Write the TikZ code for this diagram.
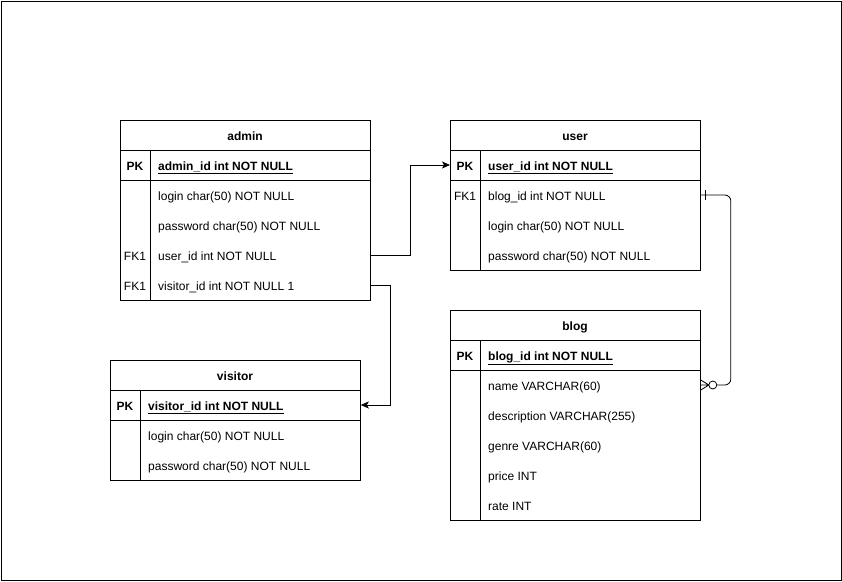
\documentclass[tikz,border=0pt]{standalone}
\usepackage{fontspec}
\setmainfont{Liberation Sans}
\usetikzlibrary{arrows.meta}
\tikzset{
  tbl/.style={draw=black, line width=0.8pt, fill=white, inner sep=0pt, anchor=north west, minimum width=250pt},
  ttl/.style={font=\fontsize{12}{14}\selectfont\bfseries, inner sep=0pt, text height=10pt, text depth=0pt},
  fld/.style={anchor=west, inner xsep=8pt, inner ysep=0pt, text height=10pt, text depth=0pt},
  keyl/.style={inner sep=0pt, text height=10pt, text depth=0pt},
  sep/.style={draw=black, line width=0.8pt},
  conn/.style={draw=black, line width=0.8pt},
  arr/.style={conn, -{Stealth[length=8pt,width=7pt,inset=2pt]}},
}
\newcommand\pkf[1]{\textbf{\underline{#1}}}
\begin{document}
\begin{tikzpicture}[x=1pt,y=-1pt,font=\fontsize{12}{14}\selectfont]
\useasboundingbox (0,0) rectangle (842,581);
\node[draw=black, line width=1pt, minimum width=840pt, minimum height=579pt, anchor=north west, inner sep=0pt] (frame) at (1,1) {};

% ---------- admin ----------
\node[tbl, minimum height=180pt] (admin) at (120,120) {};
\draw[sep] (120,150) -- (370,150) (120,180) -- (370,180) (150,150) -- (150,300);
\node[ttl] (adminT) at (245,135) {admin};
\node[keyl, font=\fontsize{12}{14}\selectfont\bfseries] (aPKl) at (135,165) {PK};
\node[fld] (aPK) at (150,165) {\pkf{admin\_id int NOT NULL}};
\node[fld] (aLogin) at (150,195) {login char(50) NOT NULL};
\node[fld] (aPass) at (150,225) {password char(50) NOT NULL};
\node[keyl] (aFK1l) at (135,255) {FK1};
\node[fld] (aUser) at (150,255) {user\_id int NOT NULL};
\node[keyl] (aFK2l) at (135,285) {FK1};
\node[fld] (aVis) at (150,285) {visitor\_id int NOT NULL 1};

% ---------- user ----------
\node[tbl, minimum height=150pt] (user) at (450,120) {};
\draw[sep] (450,150) -- (700,150) (450,180) -- (700,180) (480,150) -- (480,270);
\node[ttl] (userT) at (575,135) {user};
\node[keyl, font=\fontsize{12}{14}\selectfont\bfseries] (uPKl) at (465,165) {PK};
\node[fld] (uPK) at (480,165) {\pkf{user\_id int NOT NULL}};
\node[keyl] (uFKl) at (465,195) {FK1};
\node[fld] (uBlog) at (480,195) {blog\_id int NOT NULL};
\node[fld] (uLogin) at (480,225) {login char(50) NOT NULL};
\node[fld] (uPass) at (480,255) {password char(50) NOT NULL};

% ---------- blog ----------
\node[tbl, minimum height=210pt] (blog) at (450,310) {};
\draw[sep] (450,340) -- (700,340) (450,370) -- (700,370) (480,340) -- (480,520);
\node[ttl] (blogT) at (575,325) {blog};
\node[keyl, font=\fontsize{12}{14}\selectfont\bfseries] (bPKl) at (465,355) {PK};
\node[fld] (bPK) at (480,355) {\pkf{blog\_id int NOT NULL}};
\node[fld] (bName) at (480,385) {name VARCHAR(60)};
\node[fld] (bDesc) at (480,415) {description VARCHAR(255)};
\node[fld] (bGenre) at (480,445) {genre VARCHAR(60)};
\node[fld] (bPrice) at (480,475) {price INT};
\node[fld] (bRate) at (480,505) {rate INT};

% ---------- visitor ----------
\node[tbl, minimum height=120pt] (visitor) at (110,360) {};
\draw[sep] (110,390) -- (360,390) (110,420) -- (360,420) (140,390) -- (140,480);
\node[ttl] (visT) at (235,375) {visitor};
\node[keyl, font=\fontsize{12}{14}\selectfont\bfseries] (vPKl) at (125,405) {PK};
\node[fld] (vPK) at (140,405) {\pkf{visitor\_id int NOT NULL}};
\node[fld] (vLogin) at (140,435) {login char(50) NOT NULL};
\node[fld] (vPass) at (140,465) {password char(50) NOT NULL};

% ---------- connectors ----------
\draw[arr] (admin.east |- aUser) -- ++(40,0) |- (user.west |- uPK);
\draw[arr] (admin.east |- aVis) -- ++(20,0) |- (visitor.east |- vPK);

\draw[conn, rounded corners=6pt] (user.east |- uBlog) -- ++(30,0) |- ([xshift=16pt]blog.east |- bName);
\draw[conn] ([xshift=5pt]user.east |- uBlog) ++(0,-5) -- ++(0,10);
\draw[conn] ([xshift=8pt]blog.east |- bName) -- ([yshift=-5pt]blog.east |- bName)
            ([xshift=8pt]blog.east |- bName) -- (blog.east |- bName)
            ([xshift=8pt]blog.east |- bName) -- ([yshift=5pt]blog.east |- bName);
\draw[conn, fill=white] ([xshift=12pt]blog.east |- bName) circle (4pt);
\end{tikzpicture}
\end{document}
